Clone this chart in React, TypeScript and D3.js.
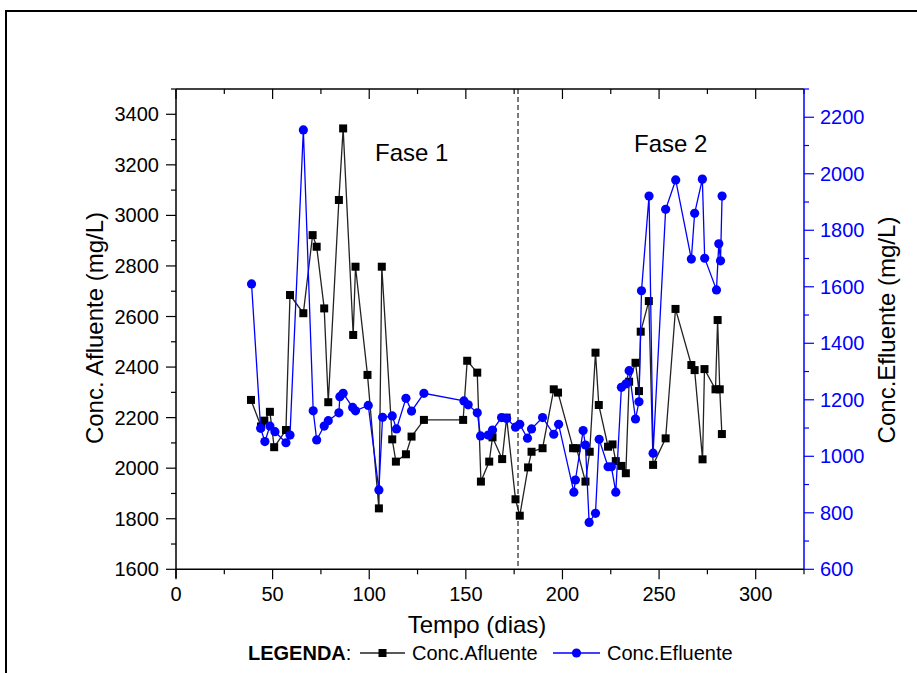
import React from "react";
import * as d3 from "d3";

const afDays = [38.8,44,45.7,48.6,50.8,56.9,59,65.9,70.7,72.8,76.7,78.8,84.3,86.5,91.7,92.9,99.1,105,106.5,111.9,113.8,119,121.9,128.3,148.6,150.7,155.9,157.8,162.1,163.8,168.8,171.1,175.7,177.9,182.2,184,189.7,195.5,197.7,205.5,207.3,211.9,214.1,217.1,218.8,223.6,225.9,227.6,230.5,232.8,234.5,237.8,239.6,240.5,244.7,246.9,253.4,258.5,266.7,268.4,272.5,273.5,279.2,280.3,281.4,282.5];
const afValues = [2270,2165,2188,2223,2083,2151,2685,2613,2922,2876,2632,2261,3061,3344,2527,2797,2369,1841,2797,2114,2026,2055,2125,2191,2191,2425,2378,1947,2026,2122,2036,2200,1877,1812,2003,2065,2079,2312,2299,2079,2079,1947,2065,2457,2250,2085,2094,2028,2009,1980,2342,2417,2305,2540,2661,2013,2118,2630,2408,2388,2035,2392,2312,2586,2312,2135];

const efDays = [39.1,43.8,46,48.6,51.2,56.9,59,65.9,71,72.8,76.7,78.8,84.3,84.8,86.5,91.4,92.9,99.5,105,106.9,111.9,114.1,119,121.9,128.3,149,151.2,155.9,157.6,161.6,163.8,168.5,171.1,175.7,177.9,181.9,184,189.7,195.5,198,205.9,206.7,210.7,211.9,213.8,217.1,219,223.6,225.3,227.6,230.5,232.8,234.5,237.8,239.6,240.9,244.8,246.9,253.4,258.6,266.7,268.4,272.4,273.6,279.7,280.9,281.8,282.6];
const efValues = [1610,1099,1052,1107,1087,1048,1075,2155,1161,1058,1107,1126,1154,1211,1223,1173,1161,1180,881,1138,1143,1097,1205,1160,1223,1196,1182,1154,1072,1075,1093,1137,1134,1103,1113,1064,1097,1137,1078,1113,873,916,1091,1040,766,798,1060,963,963,873,1244,1256,1303,1132,1193,1586,1921,1011,1874,1978,1698,1860,1981,1701,1589,1752,1692,1921];

const xTicks = [0, 50, 100, 150, 200, 250, 300];
const yLeftTicks = [1600, 1800, 2000, 2200, 2400, 2600, 2800, 3000, 3200, 3400];
const yRightTicks = [600, 800, 1000, 1200, 1400, 1600, 1800, 2000, 2200];
const phaseBoundary = 177;
const phaseLabels = [
  { text: "Fase 1", day: 122, value: 3215 },
  { text: "Fase 2", day: 256, value: 3250 },
];

const FONT = "'Liberation Sans', Arial, Helvetica, sans-serif";
const BLUE = "#0000ff";
const DARK = "#222";

export default function App() {
  const L = 176, R = 804, T = 89, B = 569.3;
  const x = d3.scaleLinear().domain([0, 325]).range([L, R]);
  const yL = d3.scaleLinear().domain([1600, 3500]).range([B, T]);
  const yR = d3.scaleLinear().domain([600, 2300]).range([B, T]);

  const af = afDays.map((d, i) => [d, afValues[i]] as [number, number]);
  const ef = efDays.map((d, i) => [d, efValues[i]] as [number, number]);
  const lineAf = d3.line<[number, number]>().x(d => x(d[0])).y(d => yL(d[1]));
  const lineEf = d3.line<[number, number]>().x(d => x(d[0])).y(d => yR(d[1]));

  const xMinor = d3.range(0, 326, 25);
  const yLMinor = d3.range(1600, 3501, 100);
  const yRMinor = d3.range(600, 2301, 100);

  return (
    <svg width={917} height={673} style={{ position: "absolute", left: 0, top: 0, background: "#fff" }} fontFamily={FONT}>
      <rect x={0} y={0} width={917} height={673} fill="#fff" />
      <rect x={6} y={11} width={1000} height={1000} fill="none" stroke="#000" strokeWidth={2} />

      {/* dashed phase boundary */}
      <line x1={x(phaseBoundary)} x2={x(phaseBoundary)} y1={T} y2={B} stroke="#333" strokeWidth={1.3} strokeDasharray="5,3" />

      {/* series */}
      <path d={lineAf(af) || ""} fill="none" stroke={DARK} strokeWidth={1.3} />
      {af.map((d, i) => (
        <rect key={"a" + i} x={x(d[0]) - 4} y={yL(d[1]) - 4} width={8} height={8} fill="#000" />
      ))}
      <path d={lineEf(ef) || ""} fill="none" stroke={BLUE} strokeWidth={1.3} />
      {ef.map((d, i) => (
        <circle key={"e" + i} cx={x(d[0])} cy={yR(d[1])} r={4.6} fill={BLUE} />
      ))}

      {/* top axis */}
      <line x1={L} x2={R} y1={T} y2={T} stroke="#000" strokeWidth={1.5} />
      {xMinor.map(v => (
        <line key={"tt" + v} x1={x(v)} x2={x(v)} y1={T} y2={T + (v % 50 === 0 ? 10 : 5)} stroke="#000" strokeWidth={1.2} />
      ))}

      {/* bottom axis */}
      <line x1={L} x2={R} y1={B} y2={B} stroke="#000" strokeWidth={1.5} />
      {xMinor.map(v => (
        <line key={"bt" + v} x1={x(v)} x2={x(v)} y1={B} y2={B + (v % 50 === 0 ? 10 : 5)} stroke="#000" strokeWidth={1.2} />
      ))}
      {xTicks.map(v => (
        <text key={"xl" + v} x={x(v)} y={601} textAnchor="middle" fontSize={20} fill="#000">{v}</text>
      ))}
      <text x={477} y={633} textAnchor="middle" fontSize={24} fill="#000">Tempo (dias)</text>

      {/* left axis */}
      <line x1={L} x2={L} y1={T} y2={B + 9} stroke="#000" strokeWidth={1.5} />
      {yLMinor.map(v => (
        <line key={"lt" + v} x1={L - (v % 200 === 0 ? 10 : 5)} x2={L} y1={yL(v)} y2={yL(v)} stroke="#000" strokeWidth={1.2} />
      ))}
      {yLeftTicks.map(v => (
        <text key={"yl" + v} x={159} y={yL(v)} dy="0.35em" textAnchor="end" fontSize={20} fill="#000">{v}</text>
      ))}
      <text transform={`translate(103,328) rotate(-90)`} textAnchor="middle" fontSize={24} fill="#000">Conc. Afluente (mg/L)</text>

      {/* right axis */}
      <line x1={R} x2={R} y1={T} y2={B} stroke={BLUE} strokeWidth={1.5} />
      {yRMinor.map(v => (
        <line key={"rt" + v} x1={R} x2={R + (v % 200 === 0 ? 10 : 5)} y1={yR(v)} y2={yR(v)} stroke={BLUE} strokeWidth={1.2} />
      ))}
      {yRightTicks.map(v => (
        <text key={"yr" + v} x={820} y={yR(v)} dy="0.35em" textAnchor="start" fontSize={20} fill={BLUE}>{v}</text>
      ))}
      <text transform={`translate(895,330) rotate(-90)`} textAnchor="middle" fontSize={24} fill="#000">Conc.Efluente (mg/L)</text>

      {/* phase labels */}
      {phaseLabels.map(p => (
        <text key={p.text} x={x(p.day)} y={yL(p.value)} textAnchor="middle" fontSize={24} fill="#000">{p.text}</text>
      ))}

      {/* legend */}
      <text x={248} y={660} fontSize={20} fill="#000">
        <tspan fontWeight="bold">LEGENDA</tspan>
        <tspan>:</tspan>
      </text>
      <line x1={360} x2={405} y1={653} y2={653} stroke={DARK} strokeWidth={1.3} />
      <rect x={378.5} y={649} width={8} height={8} fill="#000" />
      <text x={412} y={660} fontSize={20} fill="#000">Conc.Afluente</text>
      <line x1={553} x2={600} y1={653} y2={653} stroke={BLUE} strokeWidth={1.3} />
      <circle cx={576.5} cy={653} r={4.6} fill={BLUE} />
      <text x={607} y={660} fontSize={20} fill="#000">Conc.Efluente</text>
    </svg>
  );
}
